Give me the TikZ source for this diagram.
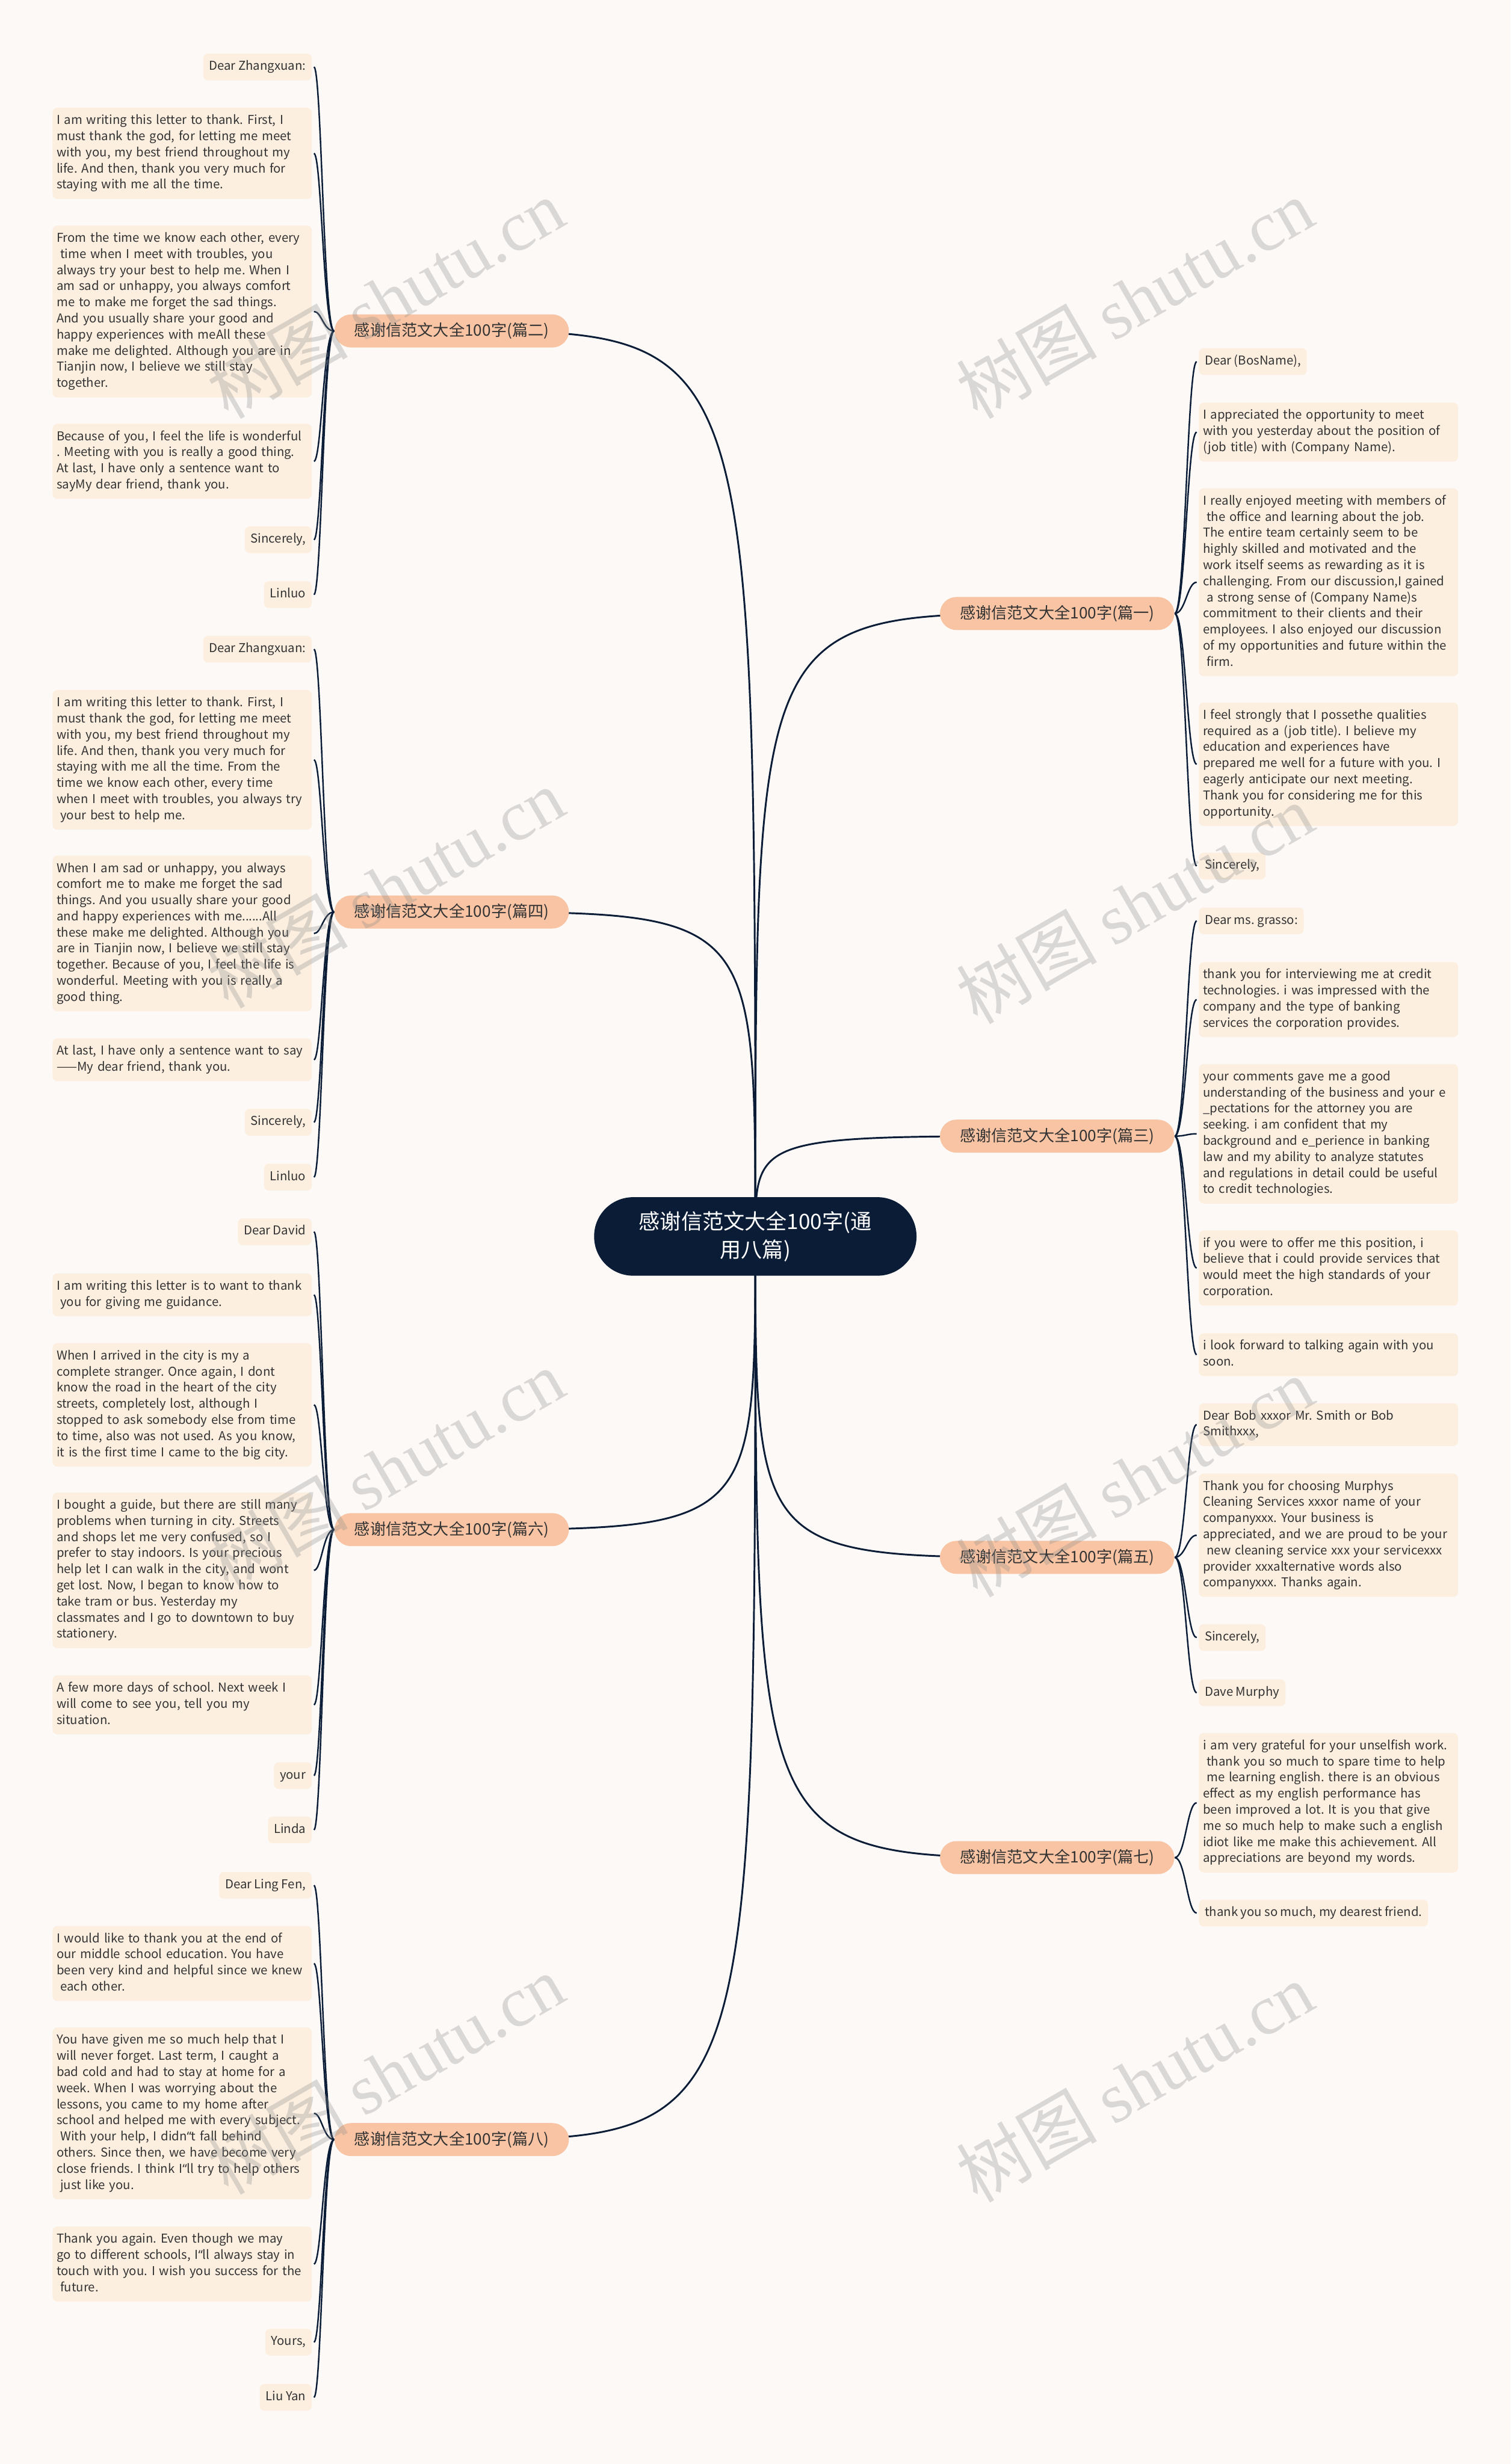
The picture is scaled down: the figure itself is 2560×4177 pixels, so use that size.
\documentclass[tikz,border=0pt]{standalone}
\usepackage{fontspec}
\setmainfont{Noto Sans CJK SC}
\newfontfamily\wmserif{Liberation Serif}
\newfontfamily\latq{Noto Sans}
\frenchspacing
\definecolor{bgc}{HTML}{FDF9F7}
\definecolor{leafc}{HTML}{FDEFE0}
\definecolor{branchc}{HTML}{F8C4A4}
\definecolor{rootc}{HTML}{0B1D36}
\definecolor{linec}{HTML}{0B1D36}
\definecolor{txtc}{HTML}{333333}
\newcommand\indsp{\hspace*{0.3em}}
\newcommand\leaffont{\fontsize{5.9}{7.77}\selectfont\frenchspacing}
\pgfdeclarelayer{bglayer}
\pgfdeclarelayer{linelayer}
\pgfdeclarelayer{wmlayer}
\pgfsetlayers{bglayer,linelayer,main,wmlayer}
\tikzset{
 leaf/.style={fill=leafc, rounded corners=0.08cm, text=txtc, font=\leaffont, inner xsep=0.1cm, inner ysep=0.09cm, execute at begin node=\strut, execute at end node=\strut},
 wide/.style={leaf, text width=4.25cm, align=left, inner xsep=0.07cm},
 branch/.style={fill=branchc, rounded corners=0.28cm, minimum width=3.97cm, minimum height=0.56cm, text=txtc, font=\fontsize{7.6}{9}\selectfont, inner sep=0pt},
 root/.style={fill=rootc, rounded corners=0.66cm, minimum width=5.46cm, minimum height=1.33cm, text=white, font=\fontsize{10.2}{13.7}\selectfont, align=center, inner sep=0pt},
 mainline/.style={draw=linec, line width=0.03cm},
 leafline/.style={draw=linec, line width=0.025cm},
 wm/.style={text=black!45, opacity=0.3, rotate=30, font=\fontsize{34}{40}\selectfont}
}
\begin{document}
\begin{tikzpicture}[x=0.01cm,y=-0.01cm]
\useasboundingbox (0,0) rectangle (2560,4177);
\begin{pgfonlayer}{bglayer}
\fill[bgc] (0,0) rectangle (2560,4177);
\end{pgfonlayer}

% root
\node[root] (c) at (1280,2096) {感谢信范文大全100字(通\\用八篇)};

% branches
\node[branch] (b2) at (765.5,561) {感谢信范文大全100字(篇二)};
\node[branch] (b4) at (765.5,1546) {感谢信范文大全100字(篇四)};
\node[branch] (b6) at (765.5,2593) {感谢信范文大全100字(篇六)};
\node[branch] (b8) at (765.5,3627) {感谢信范文大全100字(篇八)};
\node[branch] (b1) at (1791.5,1040) {感谢信范文大全100字(篇一)};
\node[branch] (b3) at (1791.5,1926) {感谢信范文大全100字(篇三)};
\node[branch] (b5) at (1791.5,2640) {感谢信范文大全100字(篇五)};
\node[branch] (b7) at (1791.5,3149) {感谢信范文大全100字(篇七)};

% ---- left: pian er
\node[leaf, anchor=east] (a1) at (529,113.5) {Dear Zhangxuan:};
\node[wide, anchor=east] (a2) at (529,260) {I am writing this letter to thank. First, I\\must thank the god, for letting me meet\\with you, my best friend throughout my\\life. And then, thank you very much for\\staying with me all the time.};
\node[wide, anchor=east] (a3) at (529,528) {From the time we know each other, every\\\indsp time when I meet with troubles, you\\always try your best to help me. When I\\am sad or unhappy, you always comfort\\me to make me forget the sad things.\\And you usually share your good and\\happy experiences with meAll these\\make me delighted. Although you are in\\Tianjin now, I believe we still stay\\together.};
\node[wide, anchor=east] (a4) at (529,782) {Because of you, I feel the life is wonderful\\. Meeting with you is really a good thing.\\At last, I have only a sentence want to\\sayMy dear friend, thank you.};
\node[leaf, anchor=east] (a5) at (529,915) {Sincerely,};
\node[leaf, anchor=east] (a6) at (529,1008) {Linluo};

% ---- left: pian si
\node[leaf, anchor=east] (d1) at (529,1100.5) {Dear Zhangxuan:};
\node[wide, anchor=east] (d2) at (529,1288) {I am writing this letter to thank. First, I\\must thank the god, for letting me meet\\with you, my best friend throughout my\\life. And then, thank you very much for\\staying with me all the time. From the\\time we know each other, every time\\when I meet with troubles, you always try\\\indsp your best to help me.};
\node[wide, anchor=east] (d3) at (529,1582.5) {When I am sad or unhappy, you always\\comfort me to make me forget the sad\\things. And you usually share your good\\and happy experiences with me......All\\these make me delighted. Although you\\are in Tianjin now, I believe we still stay\\together. Because of you, I feel the life is\\wonderful. Meeting with you is really a\\good thing.};
\node[wide, anchor=east] (d4) at (529,1796.5) {At last, I have only a sentence want to say\\——My dear friend, thank you.};
\node[leaf, anchor=east] (d5) at (529,1902.5) {Sincerely,};
\node[leaf, anchor=east] (d6) at (529,1995.5) {Linluo};

% ---- left: pian liu
\node[leaf, anchor=east] (f1) at (529,2088) {Dear David};
\node[wide, anchor=east] (f2) at (529,2195) {I am writing this letter is to want to thank\\\indsp you for giving me guidance.};
\node[wide, anchor=east] (f3) at (529,2381.5) {When I arrived in the city is my a\\complete stranger. Once again, I dont\\know the road in the heart of the city\\streets, completely lost, although I\\stopped to ask somebody else from time\\to time, also was not used. As you know,\\it is the first time I came to the big city.};
\node[wide, anchor=east] (f4) at (529,2662) {I bought a guide, but there are still many\\problems when turning in city. Streets\\and shops let me very confused, so I\\prefer to stay indoors. Is your precious\\help let I can walk in the city, and wont\\get lost. Now, I began to know how to\\take tram or bus. Yesterday my\\classmates and I go to downtown to buy\\stationery.};
\node[wide, anchor=east] (f5) at (529,2890) {A few more days of school. Next week I\\will come to see you, tell you my\\situation.};
\node[leaf, anchor=east] (f6) at (529,3010) {your};
\node[leaf, anchor=east] (f7) at (529,3102) {Linda};

% ---- left: pian ba
\node[leaf, anchor=east] (h1) at (529,3196) {Dear Ling Fen,};
\node[wide, anchor=east] (h2) at (529,3328.5) {I would like to thank you at the end of\\our middle school education. You have\\been very kind and helpful since we knew\\\indsp each other.};
\node[wide, anchor=east] (h3) at (529,3582.5) {You have given me so much help that I\\will never forget. Last term, I caught a\\bad cold and had to stay at home for a\\week. When I was worrying about the\\lessons, you came to my home after\\school and helped me with every subject.\\\indsp With your help, I didn{\latq “}t fall behind\\others. Since then, we have become very\\close friends. I think I{\latq “}ll try to help others\\\indsp just like you.};
\node[wide, anchor=east] (h4) at (529,3838) {Thank you again. Even though we may\\go to different schools, I{\latq “}ll always stay in\\touch with you. I wish you success for the\\\indsp future.};
\node[leaf, anchor=east] (h5) at (529,3970.5) {Yours,};
\node[leaf, anchor=east] (h6) at (529,4064) {Liu Yan};

% ---- right: pian yi
\node[leaf, anchor=west] (r1) at (2031,613) {Dear (BosName),};
\node[wide, anchor=west] (r2) at (2031,732.5) {I appreciated the opportunity to meet\\with you yesterday about the position of\\(job title) with (Company Name).};
\node[wide, anchor=west] (r3) at (2031,987) {I really enjoyed meeting with members of\\\indsp the office and learning about the job.\\The entire team certainly seem to be\\highly skilled and motivated and the\\work itself seems as rewarding as it is\\challenging. From our discussion,I gained\\\indsp a strong sense of (Company Name)s\\commitment to their clients and their\\employees. I also enjoyed our discussion\\of my opportunities and future within the\\\indsp firm.};
\node[wide, anchor=west] (r4) at (2031,1295.5) {I feel strongly that I possethe qualities\\required as a (job title). I believe my\\education and experiences have\\prepared me well for a future with you. I\\eagerly anticipate our next meeting.\\Thank you for considering me for this\\opportunity.};
\node[leaf, anchor=west] (r5) at (2031,1468) {Sincerely,};

% ---- right: pian san
\node[leaf, anchor=west] (s1) at (2031,1561) {Dear ms. grasso:};
\node[wide, anchor=west] (s2) at (2031,1694.5) {thank you for interviewing me at credit\\technologies. i was impressed with the\\company and the type of banking\\services the corporation provides.};
\node[wide, anchor=west] (s3) at (2031,1922) {your comments gave me a good\\understanding of the business and your e\\\_pectations for the attorney you are\\seeking. i am confident that my\\background and e\_perience in banking\\law and my ability to analyze statutes\\and regulations in detail could be useful\\to credit technologies.};
\node[wide, anchor=west] (s4) at (2031,2149.5) {if you were to offer me this position, i\\believe that i could provide services that\\would meet the high standards of your\\corporation.};
\node[wide, anchor=west] (s5) at (2031,2296.5) {i look forward to talking again with you\\soon.};

% ---- right: pian wu
\node[wide, anchor=west] (t1) at (2031,2415) {Dear Bob xxxor Mr. Smith or Bob\\Smithxxx,};
\node[wide, anchor=west] (t2) at (2031,2602.5) {Thank you for choosing Murphys\\Cleaning Services xxxor name of your\\companyxxx. Your business is\\appreciated, and we are proud to be your\\\indsp new cleaning service xxx your servicexxx\\provider xxxalternative words also\\companyxxx. Thanks again.};
\node[leaf, anchor=west] (t3) at (2031,2776) {Sincerely,};
\node[leaf, anchor=west] (t4) at (2031,2869.5) {Dave Murphy};

% ---- right: pian qi
\node[wide, anchor=west] (u1) at (2031,3056) {i am very grateful for your unselfish work.\\\indsp thank you so much to spare time to help\\\indsp me learning english. there is an obvious\\effect as my english performance has\\been improved a lot. It is you that give\\me so much help to make such a english\\idiot like me make this achievement. All\\appreciations are beyond my words.};
\node[leaf, anchor=west] (u2) at (2031,3243) {thank you so much, my dearest friend.};

% ---- connectors
\begin{pgfonlayer}{linelayer}
\foreach \b in {b2,b4,b6,b8,b1,b3,b5,b7}
  \draw[mainline] (c.center) .. controls (c.center |- \b.center) .. (\b.center);
\foreach \n in {a1,a2,a3,a4,a5,a6}
  \draw[leafline] (b2.west) .. controls ([xshift=-0.18cm]b2.west) and ([xshift=0.16cm]\n.east) .. ([xshift=0.03cm]\n.east);
\foreach \n in {d1,d2,d3,d4,d5,d6}
  \draw[leafline] (b4.west) .. controls ([xshift=-0.18cm]b4.west) and ([xshift=0.16cm]\n.east) .. ([xshift=0.03cm]\n.east);
\foreach \n in {f1,f2,f3,f4,f5,f6,f7}
  \draw[leafline] (b6.west) .. controls ([xshift=-0.18cm]b6.west) and ([xshift=0.16cm]\n.east) .. ([xshift=0.03cm]\n.east);
\foreach \n in {h1,h2,h3,h4,h5,h6}
  \draw[leafline] (b8.west) .. controls ([xshift=-0.18cm]b8.west) and ([xshift=0.16cm]\n.east) .. ([xshift=0.03cm]\n.east);
\foreach \n in {r1,r2,r3,r4,r5}
  \draw[leafline] (b1.east) .. controls ([xshift=0.18cm]b1.east) and ([xshift=-0.19cm]\n.west) .. ([xshift=-0.03cm]\n.west);
\foreach \n in {s1,s2,s3,s4,s5}
  \draw[leafline] (b3.east) .. controls ([xshift=0.18cm]b3.east) and ([xshift=-0.19cm]\n.west) .. ([xshift=-0.03cm]\n.west);
\foreach \n in {t1,t2,t3,t4}
  \draw[leafline] (b5.east) .. controls ([xshift=0.18cm]b5.east) and ([xshift=-0.19cm]\n.west) .. ([xshift=-0.03cm]\n.west);
\foreach \n in {u1,u2}
  \draw[leafline] (b7.east) .. controls ([xshift=0.18cm]b7.east) and ([xshift=-0.19cm]\n.west) .. ([xshift=-0.03cm]\n.west);
\end{pgfonlayer}

% ---- watermarks
\begin{pgfonlayer}{wmlayer}
\node[wm] (w1) at (653,506) {树图 {\wmserif shutu.cn}};
\node[wm] (w2) at (1923,506) {树图 {\wmserif shutu.cn}};
\node[wm] (w3) at (653,1505) {树图 {\wmserif shutu.cn}};
\node[wm] (w4) at (1923,1532) {树图 {\wmserif shutu.cn}};
\node[wm] (w5) at (653,2491) {树图 {\wmserif shutu.cn}};
\node[wm] (w6) at (1923,2504) {树图 {\wmserif shutu.cn}};
\node[wm] (w7) at (653,3516) {树图 {\wmserif shutu.cn}};
\node[wm] (w8) at (1923,3530) {树图 {\wmserif shutu.cn}};
\end{pgfonlayer}
\end{tikzpicture}
\end{document}
